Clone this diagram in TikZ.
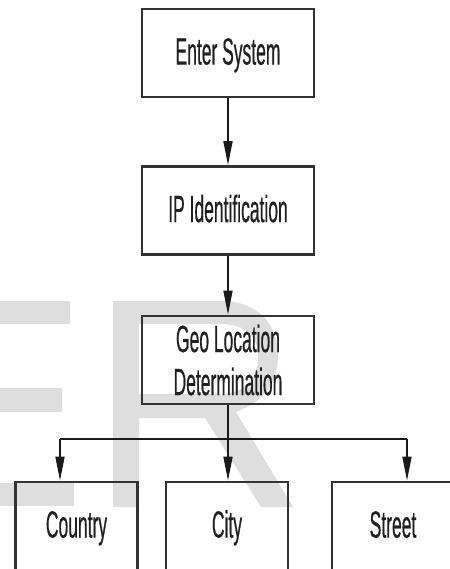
\documentclass[tikz,border=0pt]{standalone}
\usepackage{fontspec}
\newfontfamily\narrowsans[FakeStretch=0.46, FakeBold=0.4]{Liberation Sans}
\usetikzlibrary{arrows.meta}
\definecolor{boxline}{HTML}{333333}
\definecolor{wireink}{HTML}{1A1A1A}
\definecolor{labelink}{HTML}{202020}
\definecolor{wmark}{HTML}{DEDEDE}
\tikzset{
  stepbox/.style={draw=boxline, line width=1.3pt, inner sep=0pt,
    minimum width=86pt, minimum height=44pt, align=center,
    text=labelink, font=\narrowsans\fontsize{19}{21.5}\selectfont},
  single/.style={text height=13.6pt, text depth=2pt},
  leafbox/.style={stepbox, single, minimum width=61pt},
  wire/.style={draw=wireink, line width=0.8pt},
  flow/.style={wire, -{Triangle[length=12pt, width=4.5pt]}}
}
\begin{document}
\begin{tikzpicture}[x=0.5pt, y=-0.5pt]
  \useasboundingbox (0,0) rectangle (450,569);
  \clip (0,0) rectangle (450,569);

  % light background lettering
  \fill[wmark] (0,301) rectangle (70,324);
  \fill[wmark] (0,388) rectangle (62,412);
  \fill[wmark] (0,483) rectangle (74,506);
  \fill[wmark, even odd rule]
    (113,507) -- (113,301) -- (222,301)
      .. controls (258,301) and (278,325) .. (278,355)
      .. controls (278,385) and (262,402) .. (236,412)
      -- (293,507) -- (261,507) -- (205,418) -- (139,418) -- (139,507) -- cycle
    (139,324) -- (220,324)
      .. controls (248,324) and (258,338) .. (258,357)
      .. controls (258,378) and (245,394) .. (220,394)
      -- (139,394) -- cycle;

  % process steps
  \node[stepbox, single] (enter) at (228,53)  {Enter System};
  \node[stepbox, single] (ip)    at (228,210.5) {IP Identification};
  \node[stepbox]         (geo)   at (228,360) {Geo Location\\Determination};

  % outcomes
  \node[leafbox] (country) at (76.5,526) {Country};
  \node[leafbox] (city)    at (227,526)  {City};
  \node[leafbox] (street)  at (393,526)  {Street};

  % branch bar
  \coordinate (barL) at (60,439);
  \coordinate (barR) at (407,439);

  \draw[flow] (enter.south) -- (ip.north);
  \draw[flow] (ip.south) -- (geo.north);
  \draw[flow] (geo.south) -- (geo.south |- city.north);
  \draw[wire] (barL) -- (barR);
  \draw[flow] (barL) -- (barL |- country.north);
  \draw[flow] (barR) -- (barR |- street.north);
\end{tikzpicture}
\end{document}
